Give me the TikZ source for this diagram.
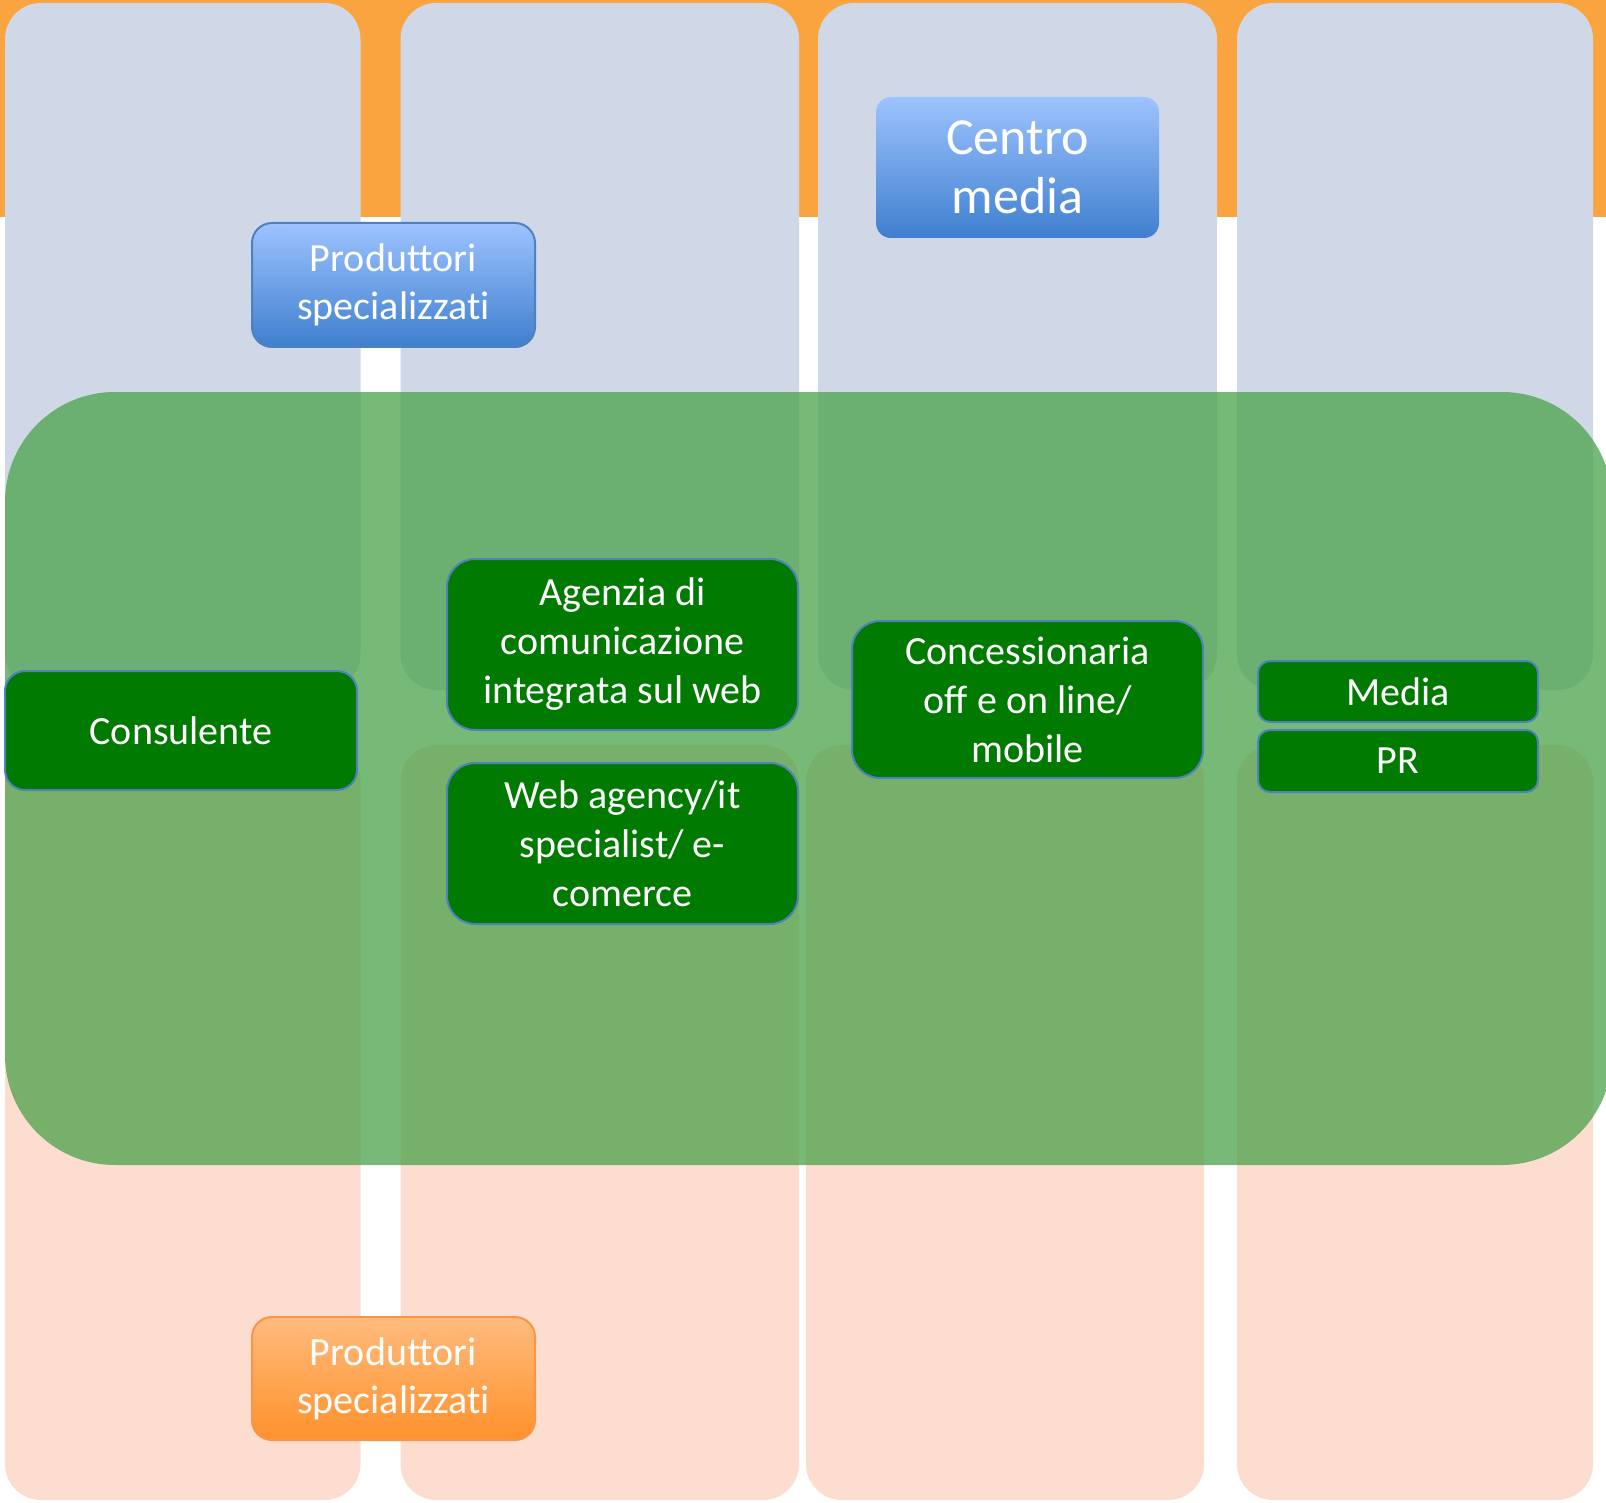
\documentclass[tikz,border=0pt]{standalone}
\usepackage{fontspec}
\setmainfont{Carlito}[RawFeature={-liga;-clig;-calt;-dlig}]
\definecolor{bandorange}{HTML}{F9A43E}
\definecolor{lavender}{HTML}{D0D8E8}
\definecolor{peach}{HTML}{FCDDD0}
\definecolor{veil}{HTML}{4AA24A}
\definecolor{boxgreen}{HTML}{007A00}
\definecolor{boxedge}{HTML}{4F81BD}
\definecolor{bluetop}{HTML}{9DC3FF}
\definecolor{bluebot}{HTML}{3F7FCE}
\definecolor{orangetop}{HTML}{FFBB7D}
\definecolor{orangebot}{HTML}{FF912B}
\definecolor{orangeedge}{HTML}{F7964A}
\begin{document}
\begin{tikzpicture}[x=1pt,y=-1pt,
  lane/.style={rounded corners=36},
  bluebox/.style={rectangle, rounded corners=20, top color=bluetop, bottom color=bluebot,
    draw=boxedge, line width=2, text=white, align=center, inner sep=0pt,
    font=\fontsize{40}{48}\selectfont},
  orangebox/.style={rectangle, rounded corners=20, top color=orangetop, bottom color=orangebot,
    draw=orangeedge, line width=2, text=white, align=center, inner sep=0pt,
    font=\fontsize{40}{48}\selectfont},
  greenbox/.style={rectangle, rounded corners=28, fill=boxgreen, draw=boxedge,
    line width=2, text=white, align=center, inner sep=0pt,
    font=\fontsize{40}{49}\selectfont},
  tagbox/.style={greenbox, rounded corners=12}
]
\useasboundingbox (0,0) rectangle (1606,1503);
\begin{scope}
\clip (0,0) rectangle (1606,1503);
% orange header band
\fill[bandorange] (0,0) rectangle (1606,217);
% upper (lavender) lanes
\fill[lavender, lane] (5,3) rectangle (360.5,690);
\fill[lavender, lane] (400.5,3) rectangle (799,690);
\fill[lavender, lane] (818,3) rectangle (1217,690);
\fill[lavender, lane] (1237,3) rectangle (1593,690);
% lower (peach) lanes
\fill[peach, lane] (5,745) rectangle (360.5,1500);
\fill[peach, lane] (400.5,745) rectangle (799,1500);
\fill[peach, lane] (806,745) rectangle (1204,1500);
\fill[peach, lane] (1237,745) rectangle (1593,1500);
% top boxes
\node[bluebox, minimum width=283, minimum height=124] (prodtop) at (393.5,285)
  {Produttori\\specializzati};
\node[bluebox, draw=none, rounded corners=15, minimum width=283, minimum height=141,
  font=\fontsize{52}{59}\selectfont] (centro) at (1017.5,167.5) {Centro\\media};
% green band across the lanes
\fill[veil, fill opacity=0.75, rounded corners=110] (5,392) rectangle (1612,1165);
\end{scope}
% boxes inside the green band
\node[greenbox, rounded corners=20, minimum width=352, minimum height=119] (consulente)
  at (181,730.5) {Consulente};
\node[greenbox, minimum width=351, minimum height=171] (agenzia) at (622.5,644.5)
  {Agenzia di\\comunicazione\\integrata sul web};
\node[greenbox, minimum width=351, minimum height=161] (webagency) at (622.5,843.5)
  {Web agency/it\\specialist/ e-\\comerce};
\node[greenbox, minimum width=351, minimum height=157] (concess) at (1027.5,699.5)
  {Concessionaria\\off e on line/\\mobile};
\node[tagbox, minimum width=280, minimum height=61] (media) at (1398,691.5) {Media};
\node[tagbox, minimum width=280, minimum height=62] (pr) at (1398,761) {PR};
% bottom box
\node[orangebox, minimum width=283, minimum height=123] (prodbot) at (393.5,1378.5)
  {Produttori\\specializzati};
\end{tikzpicture}
\end{document}
